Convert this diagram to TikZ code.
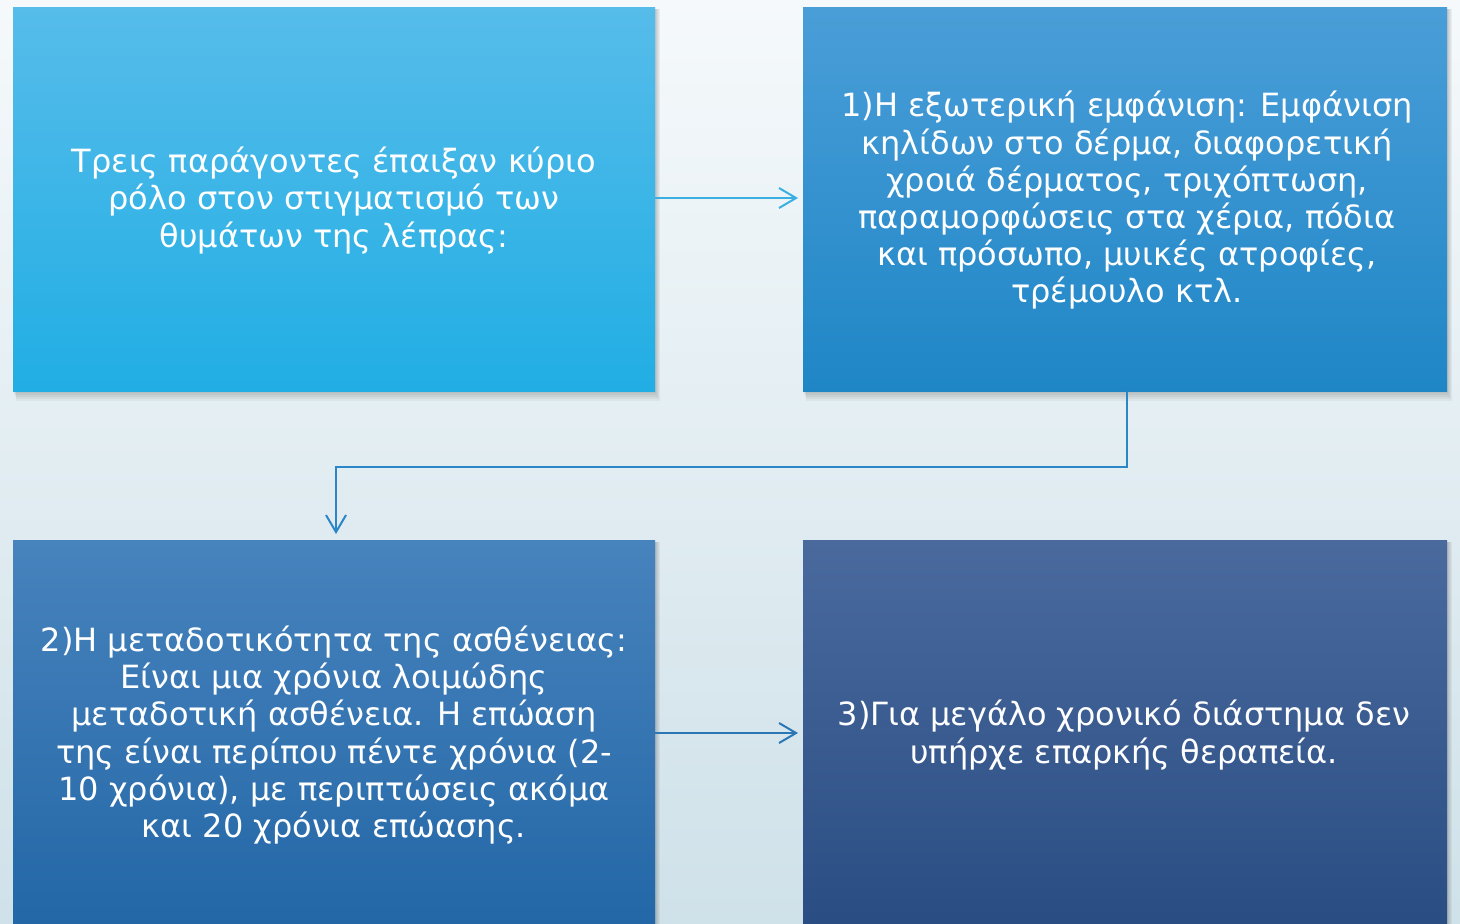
\documentclass[tikz,border=0pt]{standalone}
\usepackage{fontspec}
\setmainfont{DejaVu Sans}
\usetikzlibrary{arrows.meta}
\definecolor{bgtop}{HTML}{F5F9FB}
\definecolor{bgbot}{HTML}{CFE1E9}
\definecolor{aT}{HTML}{56BCEA}\definecolor{aB}{HTML}{21AEE4}
\definecolor{bT}{HTML}{4A9ED8}\definecolor{bB}{HTML}{1F86C6}
\definecolor{cT}{HTML}{4783BD}\definecolor{cB}{HTML}{2266A6}
\definecolor{dT}{HTML}{4A6A9E}\definecolor{dB}{HTML}{284C82}
\definecolor{arrA}{HTML}{3AB0E2}
\definecolor{arrB}{HTML}{2A86C6}
\definecolor{arrC}{HTML}{2A76B6}
\begin{document}
\begin{tikzpicture}[x=0.5pt,y=-0.5pt,
  shad/.style={fill=black,opacity=0.045},
  txt/.style={text=white,align=center,font=\fontsize{16}{18.6}\selectfont,inner sep=0pt},
  conn/.style={line width=1pt,-{Straight Barb[length=8.5pt,width=10pt,line width=1pt]}}]
\useasboundingbox (0,0) rectangle (1460,923);
\shade[top color=bgtop,bottom color=bgbot] (0,0) rectangle (1460,923);
\begin{scope}
\clip (0,0) rectangle (1460,923);
\foreach \d in {2,4,6,8,10}{
  \path[shad] (13+\d/3,9) rectangle (655+\d/2,391+\d);
  \path[shad] (803+\d/3,9) rectangle (1447+\d/2,391+\d);
  \path[shad] (13+\d/3,542) rectangle (655+\d/2,940);
  \path[shad] (803+\d/3,542) rectangle (1447+\d/2,940);
}
\path[top color=aT,bottom color=aB] (13,7) rectangle (655,391);
\path[top color=bT,bottom color=bB] (803,7) rectangle (1447,391);
\path[top color=cT,bottom color=cB] (13,540) rectangle (655,940);
\path[top color=dT,bottom color=dB] (803,540) rectangle (1447,940);
\end{scope}
\coordinate (A) at (334,200.5);
\coordinate (B) at (1127,200.5);
\coordinate (C) at (334,735);
\coordinate (D) at (1124,735);
\coordinate (Ae) at (655,198);
\coordinate (Bw) at (798,198);
\coordinate (Bs) at (1127,391);
\coordinate (Cn) at (336,534);
\coordinate (Ce) at (655,733);
\coordinate (Dw) at (798,733);
\node[txt] (ta) at (A) {Τρεις παράγοντες έπαιξαν κύριο\\ρόλο στον στιγματισμό των\\θυμάτων της λέπρας:};
\node[txt] (tb) at (B) {1)Η εξωτερική εμφάνιση: Εμφάνιση\\κηλίδων στο δέρμα, διαφορετική\\χροιά δέρματος, τριχόπτωση,\\παραμορφώσεις στα χέρια, πόδια\\και πρόσωπο, μυικές ατροφίες,\\τρέμουλο κτλ.};
\node[txt] (tc) at (C) {2)Η μεταδοτικότητα της ασθένειας:\\Είναι μια χρόνια λοιμώδης\\μεταδοτική ασθένεια. Η επώαση\\της είναι περίπου πέντε χρόνια (2-\\10 χρόνια), με περιπτώσεις ακόμα\\και 20 χρόνια επώασης.};
\node[txt] (td) at (D) {3)Για μεγάλο χρονικό διάστημα δεν\\υπήρχε επαρκής θεραπεία.};
\draw[conn,arrA] (Ae) -- (Bw);
\draw[conn,arrB] (Bs) -- (1127,467) -- (336,467) -- (Cn);
\draw[conn,arrC] (Ce) -- (Dw);
\end{tikzpicture}
\end{document}
